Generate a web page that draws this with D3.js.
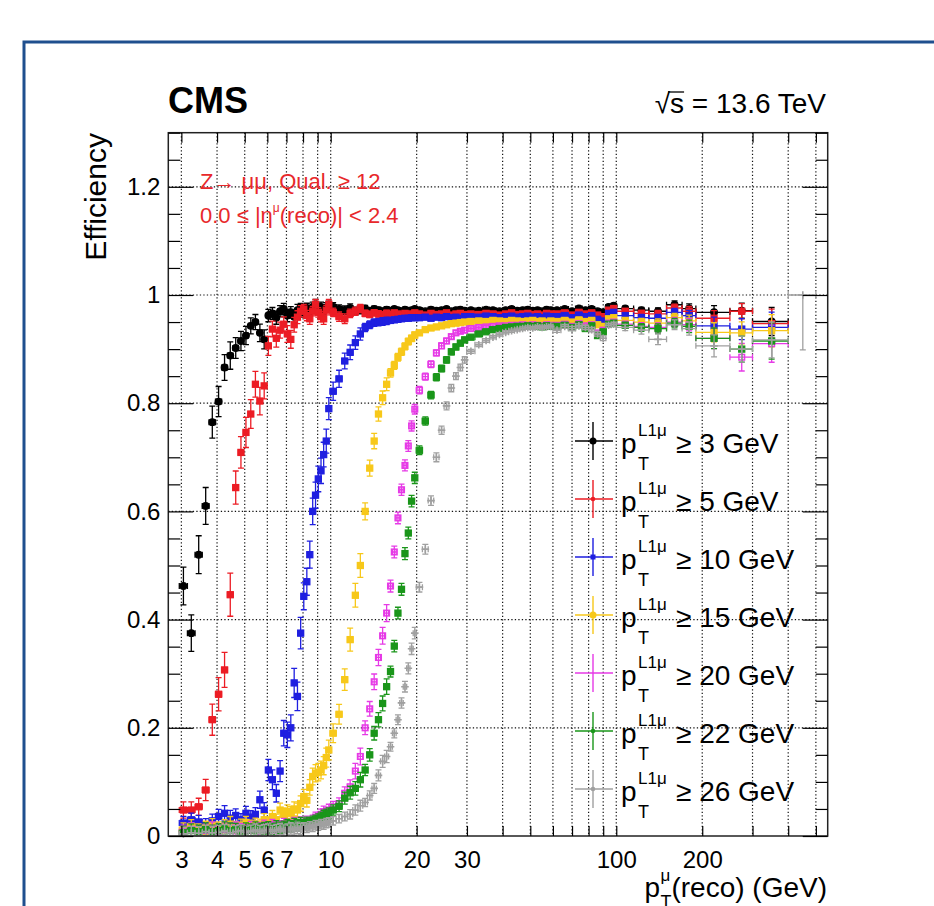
<!DOCTYPE html>
<html>
<head>
<meta charset="utf-8">
<script src="https://cdn.jsdelivr.net/npm/d3@7"></script>
<style>
body { margin: 0; background: #fff; }
svg { display: block; }
text { font-family: "Liberation Sans", Arial, Helvetica, sans-serif; }
</style>
</head>
<body>
<svg id="chart" width="934" height="906"></svg>
<script>
// bin edges in reco muon pT (GeV)
var binEdges = [2.95,3.15,3.35,3.55,3.75,3.95,4.15,4.35,4.55,4.75,4.95,5.15,5.35,5.55,5.75,5.95,6.15,6.35,6.55,6.75,
  6.95,7.15,7.35,7.55,7.75,7.95,8.15,8.35,8.55,8.75,8.95,9.15,9.35,9.55,9.75,9.95,
  10.45,10.95,11.45,11.95,12.45,12.95,13.45,13.95,14.45,14.95,15.45,15.95,16.45,16.95,17.45,17.95,18.45,18.95,19.45,19.95,
  20.95,21.95,22.95,23.95,24.95,25.95,26.95,27.95,28.95,29.95,
  32,34,36,38,40,42,44,46,48,50,52,54,56,58,60,
  64,68,72,76,80,84,88,92,96,100,
  115,130,150,170,190,
  250,300,400,500];

// efficiency per bin, one array per L1 threshold
var eff3 = [0.462,0.375,0.52,0.61,0.765,0.803,0.866,0.888,0.902,0.915,0.925,0.943,0.95,0.93,0.918,0.962,0.966,0.958,0.97,0.974,
  0.962,0.968,0.96,0.972,0.974,0.968,0.976,0.97,0.978,0.983,0.975,0.978,0.972,0.977,0.98,
  0.978,0.974,0.972,0.976,0.97,0.973,0.975,0.971,0.974,0.972,0.97,0.973,0.971,0.974,0.972,0.97,0.973,0.971,0.972,0.974,
  0.972,0.97,0.973,0.971,0.972,0.974,0.97,0.972,0.973,0.971,
  0.972,0.971,0.973,0.972,0.97,0.972,0.974,0.971,0.972,0.973,0.971,0.972,0.97,0.973,0.972,
  0.972,0.974,0.97,0.975,0.972,0.974,0.97,0.968,0.978,0.98,
  0.975,0.972,0.97,0.982,0.975,
  0.968,0.971,0.951,null];
var eff5 = [0.048,0.048,0.054,0.085,0.215,0.262,0.307,0.446,0.644,0.709,0.746,0.78,0.835,0.804,0.832,0.906,0.937,0.92,0.935,0.946,
  0.928,0.918,0.945,0.959,0.97,0.974,0.962,0.956,0.97,0.983,0.968,0.96,0.956,0.972,0.983,
  0.968,0.96,0.956,0.966,0.97,0.975,0.966,0.964,0.967,0.965,0.963,0.966,0.964,0.967,0.965,0.963,0.966,0.964,0.965,0.967,
  0.965,0.963,0.966,0.964,0.965,0.967,0.963,0.965,0.966,0.964,
  0.965,0.964,0.966,0.965,0.963,0.965,0.967,0.964,0.965,0.966,0.964,0.965,0.963,0.966,0.965,
  0.965,0.967,0.963,0.968,0.965,0.967,0.963,0.96,0.972,0.975,
  0.97,0.966,0.965,0.976,0.97,
  0.957,0.97,0.947,null];
var eff10 = [0.024,0.03,0.026,0.02,0.028,0.036,0.042,0.033,0.038,0.03,0.042,0.035,0.04,0.067,0.048,0.122,0.104,0.079,0.12,0.19,
  0.187,0.2,0.283,0.258,0.375,0.443,0.47,0.52,0.6,0.63,0.66,0.675,0.705,0.73,0.79,
  0.822,0.845,0.878,0.894,0.912,0.928,0.94,0.945,0.949,0.95,0.951,0.952,0.953,0.954,0.955,0.956,0.957,0.957,0.958,0.958,
  0.958,0.959,0.957,0.959,0.958,0.96,0.958,0.959,0.957,0.96,
  0.96,0.959,0.961,0.96,0.958,0.96,0.961,0.959,0.96,0.961,0.959,0.96,0.958,0.961,0.96,
  0.96,0.962,0.958,0.963,0.96,0.962,0.955,0.952,0.966,0.968,
  0.962,0.958,0.957,0.968,0.962,
  0.943,0.937,0.94,null];
var eff15 = [0.012,0.018,0.01,0.015,0.02,0.014,0.018,0.022,0.016,0.02,0.025,0.018,0.022,0.02,0.03,0.025,0.036,0.03,0.048,0.04,
  0.045,0.042,0.05,0.048,0.06,0.073,0.066,0.09,0.11,0.116,0.118,0.122,0.13,0.145,0.159,
  0.19,0.225,0.289,0.363,0.445,0.5,0.6,0.68,0.73,0.78,0.81,0.835,0.856,0.87,0.885,0.895,0.905,0.914,0.92,0.926,
  0.93,0.936,0.939,0.941,0.943,0.945,0.947,0.948,0.949,0.95,
  0.951,0.952,0.951,0.953,0.952,0.951,0.953,0.952,0.951,0.952,0.953,0.951,0.952,0.95,0.952,
  0.951,0.953,0.95,0.954,0.951,0.953,0.945,0.942,0.956,0.958,
  0.953,0.95,0.948,0.958,0.952,
  0.931,0.93,0.934,null];
var eff20 = [0.008,0.012,0.006,0.01,0.014,0.008,0.012,0.01,0.015,0.012,0.01,0.016,0.012,0.014,0.018,0.015,0.02,0.016,0.018,0.022,
  0.02,0.018,0.024,0.02,0.025,0.022,0.028,0.025,0.03,0.035,0.032,0.04,0.045,0.042,0.048,
  0.054,0.06,0.079,0.091,0.12,0.147,0.2,0.235,0.285,0.33,0.37,0.412,0.462,0.525,0.588,0.64,0.685,0.721,0.758,0.789,
  0.824,0.849,0.872,0.893,0.906,0.915,0.923,0.93,0.933,0.935,
  0.938,0.94,0.941,0.942,0.943,0.943,0.944,0.944,0.945,0.944,0.945,0.944,0.943,0.945,0.944,
  0.944,0.946,0.942,0.947,0.943,0.945,0.93,0.935,0.948,0.95,
  0.946,0.942,0.94,0.95,0.945,
  0.92,0.885,0.91,null];
var eff22 = [0.006,0.01,0.008,0.012,0.008,0.01,0.014,0.01,0.012,0.009,0.013,0.011,0.015,0.012,0.014,0.016,0.013,0.018,0.015,0.017,
  0.02,0.018,0.022,0.02,0.024,0.022,0.026,0.025,0.028,0.03,0.032,0.035,0.038,0.04,0.042,
  0.048,0.055,0.07,0.08,0.088,0.104,0.122,0.15,0.19,0.215,0.245,0.276,0.304,0.351,0.412,0.456,0.522,0.56,0.619,0.662,
  0.713,0.767,0.815,0.848,0.864,0.88,0.895,0.904,0.911,0.917,
  0.922,0.928,0.932,0.936,0.938,0.94,0.941,0.942,0.942,0.943,0.942,0.943,0.941,0.943,0.942,
  0.942,0.944,0.94,0.945,0.938,0.943,0.925,0.932,0.946,0.948,
  0.944,0.94,0.938,0.948,0.942,
  0.92,0.9,0.915,null];
var eff26 = [0.004,0.006,0.005,0.008,0.006,0.007,0.009,0.006,0.008,0.01,0.007,0.009,0.011,0.008,0.01,0.012,0.009,0.011,0.013,0.01,
  0.012,0.014,0.012,0.015,0.013,0.016,0.015,0.018,0.017,0.02,0.019,0.022,0.021,0.024,0.025,
  0.028,0.032,0.036,0.04,0.048,0.056,0.062,0.075,0.088,0.112,0.138,0.147,0.165,0.19,0.215,0.246,0.276,0.31,0.346,0.375,
  0.46,0.53,0.62,0.7,0.75,0.795,0.828,0.85,0.866,0.88,
  0.896,0.908,0.916,0.922,0.927,0.931,0.934,0.936,0.938,0.94,0.939,0.941,0.94,0.941,0.942,
  0.935,0.942,0.938,0.943,0.94,0.936,0.928,0.92,0.944,0.946,
  0.94,0.935,0.918,0.945,0.938,
  0.906,0.9,0.917,1.0];

// size of the error bar at 50% efficiency, per bin
var errScale = [0.035,0.035,0.035,0.035,0.035,0.035,0.035,0.04,0.032,0.032,0.032,0.032,0.032,0.032,0.032,
  0.03,0.03,0.03,0.03,0.03,0.03,0.03,0.03,0.03,0.03,0.025,0.025,0.025,0.025,0.025,0.025,0.025,0.025,0.025,0.025,
  0.022,0.022,0.022,0.022,0.022,0.022,0.016,0.016,0.016,0.016,0.016,0.016,0.011,0.011,0.011,0.011,0.011,0.011,0.011,0.011,
  0.009,0.009,0.009,0.009,0.009,0.009,0.009,0.009,0.009,0.009,
  0.006,0.006,0.006,0.006,0.006,0.006,0.006,0.006,0.006,0.006,0.006,0.006,0.006,0.006,0.006,
  0.008,0.008,0.008,0.008,0.008,0.008,0.008,0.008,0.008,0.008,
  0.012,0.015,0.018,0.02,0.025,
  0.035,0.04,0.06,0.29];

var thresholds = ['3', '5', '10', '15', '20', '22', '26'];
var seriesValues = [eff3, eff5, eff10, eff15, eff20, eff22, eff26];

var yTicks = [0, 0.2, 0.4, 0.6, 0.8, 1, 1.2];
var xGrid = [3,4,5,6,7,8,9,10,20,30,40,50,60,70,80,90,100,200,300,400,500];
var xLabels = [3,4,5,6,7,10,20,30,100,200];

// styles
var colors = ['#000000', '#ec1c24', '#1f1fe0', '#f7c81a', '#e63ae6', '#1a961a', '#a0a0a0'];
var markers = ['circle', 'square', 'square', 'square', 'open', 'square', 'plus'];
var font = '"Liberation Sans", Arial, Helvetica, sans-serif';

var plotL = 168.3, plotR = 827.7, plotT = 132.7, plotB = 836;

var svg = d3.select('#chart');

svg.append('rect').attr('width', 934).attr('height', 906).attr('fill', '#fff');
svg.append('rect')
  .attr('x', 24).attr('y', 42).attr('width', 960).attr('height', 920)
  .attr('fill', 'none').attr('stroke', '#1f4f8e').attr('stroke-width', 3);

var x = d3.scaleLog().domain([2.7, 550]).range([plotL, plotR]);
var y = d3.scaleLinear().domain([0, 1.3]).range([plotB, plotT]);

// grid
var grid = svg.append('g')
  .attr('stroke', '#111').attr('stroke-width', 1.2).attr('stroke-dasharray', '1.3,2.2');
grid.selectAll('.vg').data(xGrid).enter().append('line')
  .attr('x1', function(d) { return x(d); }).attr('x2', function(d) { return x(d); })
  .attr('y1', plotT).attr('y2', plotB);
grid.selectAll('.hg').data(yTicks.filter(function(d) { return d > 0; })).enter().append('line')
  .attr('x1', plotL).attr('x2', plotR)
  .attr('y1', function(d) { return y(d); }).attr('y2', function(d) { return y(d); });

// data points
var centres = binEdges.slice(0, -1).map(function(e, i) { return (e + binEdges[i + 1]) / 2; });

function drawMarker(g, type, color, cx, cy) {
  if (type === 'circle') {
    g.append('circle').attr('cx', cx).attr('cy', cy).attr('r', 3.3).attr('fill', color);
  } else if (type === 'square') {
    g.append('rect').attr('x', cx - 3).attr('y', cy - 3).attr('width', 6).attr('height', 6).attr('fill', color);
  } else if (type === 'open') {
    g.append('rect').attr('x', cx - 2.8).attr('y', cy - 2.8).attr('width', 5.6).attr('height', 5.6)
      .attr('fill', 'none').attr('stroke', color).attr('stroke-width', 1.5);
  } else {
    g.append('path').attr('d', 'M' + (cx - 3.8) + ',' + cy + 'h7.6M' + cx + ',' + (cy - 3.8) + 'v7.6')
      .attr('stroke', color).attr('stroke-width', 1.6);
  }
}

seriesValues.forEach(function(vals, k) {
  var g = svg.append('g').attr('stroke', colors[k]).attr('stroke-width', 1.3).attr('fill', 'none');
  vals.forEach(function(e, i) {
    if (e === null) return;
    var s = errScale[i] * Math.max(0.35, 2 * Math.sqrt(e * (1 - e)));
    var lo = Math.max(0, e - s), hi = Math.min(1, e + s);
    var cx = x(centres[i]), cy = y(e);
    var x0 = x(binEdges[i]), x1 = x(binEdges[i + 1]);
    var path = 'M' + x0 + ',' + cy + 'H' + x1 +
      'M' + cx + ',' + y(lo) + 'V' + y(hi) +
      'M' + (cx - 3) + ',' + y(lo) + 'h6M' + (cx - 3) + ',' + y(hi) + 'h6' +
      'M' + x0 + ',' + (cy - 3) + 'v6M' + x1 + ',' + (cy - 3) + 'v6';
    g.append('path').attr('d', path);
    drawMarker(g, markers[k], colors[k], cx, cy);
  });
});

// frame and ticks
svg.append('rect').attr('x', plotL).attr('y', plotT).attr('width', plotR - plotL).attr('height', plotB - plotT)
  .attr('fill', 'none').attr('stroke', '#222').attr('stroke-width', 1.5);

var yMinor = d3.range(0, 1.3001, 0.05).filter(function(d) { return Math.abs(d / 0.2 - Math.round(d / 0.2)) > 0.01; });

function styleAxis(g) {
  g.select('.domain').remove();
  g.selectAll('line').attr('stroke', '#000').attr('stroke-width', 1.2);
  g.selectAll('text').attr('fill', '#000').attr('font-family', font).attr('font-size', '24px');
}

svg.append('g').attr('transform', 'translate(' + plotL + ',0)')
  .call(d3.axisLeft(y).tickValues(yTicks).tickSize(-25).tickPadding(8)
    .tickFormat(function(d) { return d === 0 || d === 1 ? String(d) : d.toFixed(1); }))
  .call(styleAxis);
svg.append('g').attr('transform', 'translate(' + plotL + ',0)')
  .call(d3.axisLeft(y).tickValues(yMinor).tickSize(-12).tickFormat(''))
  .call(styleAxis);
svg.append('g').attr('transform', 'translate(' + plotR + ',0)')
  .call(d3.axisRight(y).tickValues(yTicks).tickSize(-25).tickFormat(''))
  .call(styleAxis);
svg.append('g').attr('transform', 'translate(' + plotR + ',0)')
  .call(d3.axisRight(y).tickValues(yMinor).tickSize(-12).tickFormat(''))
  .call(styleAxis);
svg.append('g').attr('transform', 'translate(0,' + plotB + ')')
  .call(d3.axisBottom(x).tickValues(xGrid).tickSize(-10).tickPadding(15)
    .tickFormat(function(d) { return xLabels.indexOf(d) >= 0 ? String(d) : ''; }))
  .call(styleAxis);
svg.append('g').attr('transform', 'translate(0,' + plotT + ')')
  .call(d3.axisTop(x).tickValues(xGrid).tickSize(-10).tickFormat(''))
  .call(styleAxis);

// titles
svg.append('text').attr('x', 168).attr('y', 113).attr('font-size', '36px').attr('font-weight', 'bold')
  .attr('font-family', font).text('CMS');

var energy = svg.append('text').attr('x', 826).attr('y', 113).attr('font-size', '28px')
  .attr('font-family', font).attr('text-anchor', 'end').text('\u221As = 13.6 TeV');
var en = energy.node();
var sx0 = en.getStartPositionOfChar(1).x, sx1 = en.getEndPositionOfChar(1).x;
svg.append('line').attr('x1', sx0 - 2).attr('x2', sx1).attr('y1', 92).attr('y2', 92)
  .attr('stroke', '#000').attr('stroke-width', 1.3);

svg.append('text').attr('transform', 'translate(106,133) rotate(-90)').attr('text-anchor', 'end')
  .attr('font-size', '30px').attr('font-family', font).text('Efficiency');

// x title
var xt = svg.append('text').attr('x', 827).attr('y', 897).attr('text-anchor', 'end')
  .attr('font-size', '28px').attr('font-family', font).text('(reco) (GeV)');
var xs = 827 - xt.node().getComputedTextLength();
svg.append('text').attr('x', xs - 11).attr('y', 881).attr('font-size', '17px').attr('font-family', font).text('\u03BC');
svg.append('text').attr('x', xs - 11).attr('y', 908).attr('font-size', '18px').attr('font-family', font).text('T');
svg.append('text').attr('x', xs - 27).attr('y', 897).attr('font-size', '28px').attr('font-family', font).text('p');

// red selection labels
var red = '#e8282b';
svg.append('text').attr('x', 200).attr('y', 189).attr('font-size', '22px').attr('fill', red)
  .attr('font-family', font).text('Z\u2192 \u03BC\u03BC, Qual. \u2265 12');
var l2 = svg.append('text').attr('x', 200).attr('y', 223).attr('font-size', '22px').attr('fill', red)
  .attr('font-family', font);
l2.append('tspan').text('0.0 \u2264 |\u03B7');
l2.append('tspan').attr('font-size', '12px').attr('dy', -11).text('\u03BC');
l2.append('tspan').attr('dy', 11).text('(reco)| < 2.4');

// legend
var legendTop = 441, legendStep = 58;
thresholds.forEach(function(t, k) {
  var yc = legendTop + k * legendStep;
  var g = svg.append('g');
  g.append('path').attr('d', 'M575,' + yc + 'H613M593,' + (yc - 19) + 'V' + (yc + 19))
    .attr('stroke', colors[k]).attr('stroke-width', 1.4).attr('fill', 'none');
  if (k !== 4) {
    var r = (k === 0 || k === 3) ? 3.5 : 2.3;
    if (k === 2) {
      g.append('rect').attr('x', 590.5).attr('y', yc - 2.5).attr('width', 5).attr('height', 5).attr('fill', colors[k]);
    } else {
      g.append('circle').attr('cx', 593).attr('cy', yc).attr('r', r).attr('fill', colors[k]);
    }
  }
  g.append('text').attr('x', 621).attr('y', yc + 12).attr('font-size', '28px').attr('font-family', font).text('p');
  g.append('text').attr('x', 638).attr('y', yc - 5).attr('font-size', '17px').attr('font-family', font).text('L1\u03BC');
  g.append('text').attr('x', 638).attr('y', yc + 29).attr('font-size', '18px').attr('font-family', font).text('T');
  g.append('text').attr('x', 676).attr('y', yc + 12).attr('font-size', '28px').attr('font-family', font)
    .text('\u2265 ' + t + ' GeV');
});
</script>
</body>
</html>
